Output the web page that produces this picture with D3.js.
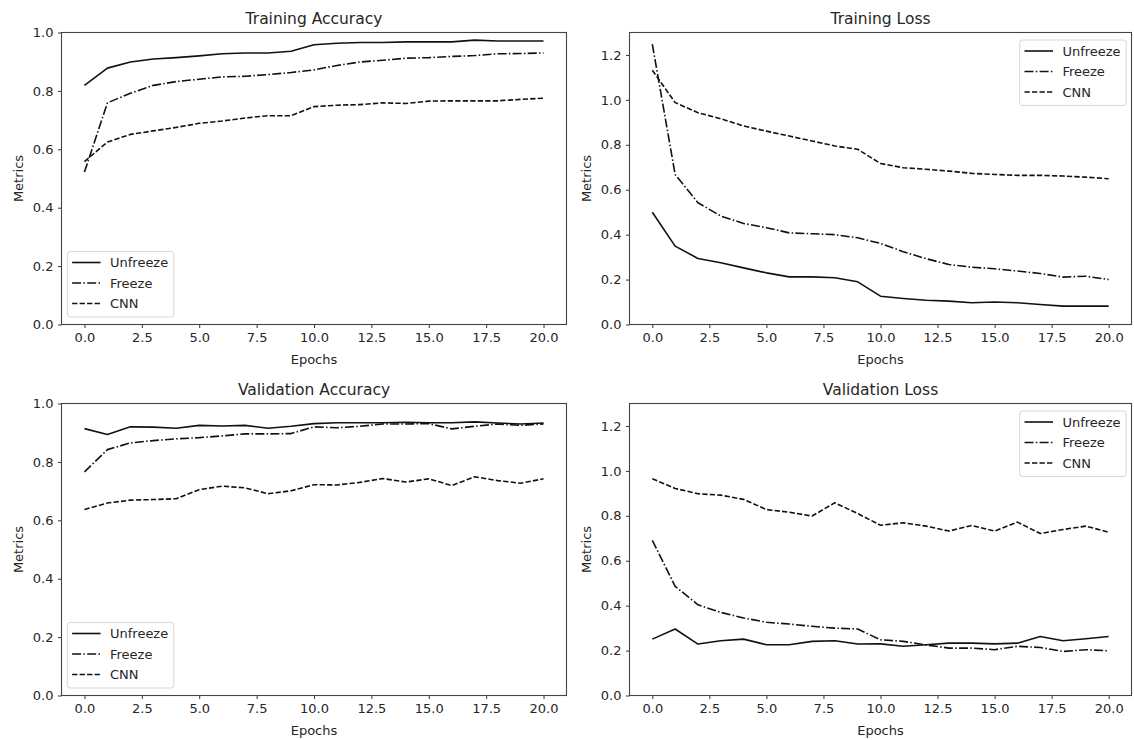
<!DOCTYPE html>
<html>
<head>
<meta charset="utf-8">
<script src="https://cdn.jsdelivr.net/npm/d3@7/dist/d3.min.js"></script>
<style>
  html, body { margin: 0; padding: 0; background: #fff; }
  svg { display: block; font-family: "DejaVu Sans", sans-serif; }
</style>
</head>
<body>
<svg id="chart" width="1134" height="740"></svg>
<script>
// ---------- DATA ----------
const epochs = [0,1,2,3,4,5,6,7,8,9,10,11,12,13,14,15,16,17,18,19,20];
const seriesNames = ["Unfreeze", "Freeze", "CNN"];
const xTickValues = [0, 2.5, 5, 7.5, 10, 12.5, 15, 17.5, 20];
const accTickValues = [0, 0.2, 0.4, 0.6, 0.8, 1.0];
const lossTickValues = [0, 0.2, 0.4, 0.6, 0.8, 1.0, 1.2];

// Training Accuracy
const trainAccUnfreeze = [0.819,0.878,0.899,0.909,0.914,0.920,0.927,0.930,0.930,0.936,0.958,0.963,0.966,0.966,0.968,0.968,0.968,0.974,0.971,0.971,0.971];
const trainAccFreeze   = [0.522,0.759,0.792,0.819,0.832,0.840,0.848,0.850,0.856,0.863,0.872,0.887,0.899,0.905,0.912,0.914,0.918,0.921,0.927,0.928,0.930];
const trainAccCNN      = [0.558,0.625,0.651,0.663,0.675,0.689,0.697,0.707,0.715,0.715,0.746,0.751,0.753,0.759,0.757,0.765,0.766,0.766,0.766,0.771,0.775];

// Training Loss
const trainLossUnfreeze = [0.500,0.349,0.294,0.275,0.252,0.230,0.212,0.212,0.208,0.190,0.126,0.116,0.108,0.104,0.097,0.100,0.097,0.089,0.082,0.082,0.082];
const trainLossFreeze   = [1.248,0.668,0.542,0.483,0.450,0.431,0.408,0.404,0.400,0.386,0.361,0.324,0.293,0.267,0.255,0.248,0.238,0.227,0.211,0.215,0.200];
const trainLossCNN      = [1.132,0.988,0.943,0.916,0.884,0.861,0.839,0.817,0.795,0.780,0.717,0.698,0.691,0.683,0.673,0.668,0.664,0.664,0.661,0.656,0.649];

// Validation Accuracy
const valAccUnfreeze = [0.914,0.894,0.920,0.919,0.915,0.925,0.923,0.925,0.915,0.922,0.931,0.934,0.934,0.934,0.936,0.934,0.934,0.937,0.933,0.930,0.933];
const valAccFreeze   = [0.766,0.842,0.865,0.873,0.879,0.883,0.889,0.896,0.896,0.897,0.920,0.917,0.922,0.930,0.930,0.931,0.913,0.922,0.930,0.925,0.930];
const valAccCNN      = [0.637,0.659,0.669,0.671,0.674,0.705,0.717,0.711,0.691,0.701,0.722,0.721,0.730,0.743,0.731,0.742,0.719,0.749,0.736,0.727,0.742];

// Validation Loss
const valLossUnfreeze = [0.251,0.296,0.229,0.244,0.251,0.226,0.226,0.241,0.244,0.229,0.230,0.219,0.226,0.233,0.233,0.230,0.233,0.263,0.244,0.253,0.263];
const valLossFreeze   = [0.691,0.486,0.404,0.370,0.345,0.326,0.318,0.308,0.300,0.296,0.248,0.241,0.225,0.211,0.211,0.204,0.219,0.214,0.196,0.204,0.199];
const valLossCNN      = [0.965,0.922,0.898,0.892,0.873,0.828,0.816,0.799,0.858,0.810,0.758,0.769,0.754,0.732,0.757,0.732,0.772,0.721,0.739,0.754,0.727];

// ---------- LAYOUT ----------
const svg = d3.select("#chart");
const INK = "#111";
const TXT = "#262626";
const dashes = { "Unfreeze": null, "Freeze": "9,2.3,1.5,2.3", "CNN": "5.3,2.2" };

const panels = [
  { title: "Training Accuracy", left: 61.5, right: 566.5, top: 32.5, bottom: 324.5, yMax: 1.0, yTicks: accTickValues,
    series: [trainAccUnfreeze, trainAccFreeze, trainAccCNN], legend: "lower left" },
  { title: "Training Loss", left: 629.5, right: 1131.5, top: 32.5, bottom: 324.5, yMax: 1.3, yTicks: lossTickValues,
    series: [trainLossUnfreeze, trainLossFreeze, trainLossCNN], legend: "upper right" },
  { title: "Validation Accuracy", left: 61.5, right: 566.5, top: 403.5, bottom: 695.5, yMax: 1.0, yTicks: accTickValues,
    series: [valAccUnfreeze, valAccFreeze, valAccCNN], legend: "lower left" },
  { title: "Validation Loss", left: 629.5, right: 1131.5, top: 403.5, bottom: 695.5, yMax: 1.3, yTicks: lossTickValues,
    series: [valLossUnfreeze, valLossFreeze, valLossCNN], legend: "upper right" }
];

panels.forEach(p => {
  const x = d3.scaleLinear().domain([-1, 21]).range([p.left, p.right]);
  const y = d3.scaleLinear().domain([0, p.yMax]).range([p.bottom, p.top]);
  const g = svg.append("g");

  // lines
  const line = d3.line().x((d, i) => x(epochs[i])).y(d => y(d));
  p.series.forEach((vals, si) => {
    g.append("path")
      .datum(vals)
      .attr("d", line)
      .attr("fill", "none")
      .attr("stroke", INK)
      .attr("stroke-width", 1.6)
      .attr("stroke-linejoin", "round")
      .attr("stroke-dasharray", dashes[seriesNames[si]]);
  });

  // axes
  const xAxis = d3.axisBottom(x).tickValues(xTickValues).tickFormat(d3.format(".1f")).tickSizeOuter(0).tickSize(3.5).tickPadding(4.5);
  const yAxis = d3.axisLeft(y).tickValues(p.yTicks).tickFormat(d3.format(".1f")).tickSizeOuter(0).tickSize(3.5).tickPadding(4.5);
  const gx = g.append("g").attr("transform", `translate(0,${p.bottom})`).call(xAxis);
  const gy = g.append("g").attr("transform", `translate(${p.left},0)`).call(yAxis);
  [gx, gy].forEach(a => {
    a.select(".domain").remove();
    a.selectAll(".tick line").attr("stroke", "#333").attr("stroke-width", 1);
    a.selectAll(".tick text").attr("fill", TXT).style("font-size", "13px").style("font-family", "DejaVu Sans, sans-serif");
  });

  // frame (spines)
  g.append("rect")
    .attr("x", p.left).attr("y", p.top)
    .attr("width", p.right - p.left).attr("height", p.bottom - p.top)
    .attr("fill", "none").attr("stroke", "#444").attr("stroke-width", 1.1);

  // title and labels
  g.append("text").attr("x", (p.left + p.right) / 2).attr("y", p.top - 8.5)
    .attr("text-anchor", "middle").attr("fill", TXT).style("font-size", "15.5px").text(p.title);
  g.append("text").attr("x", (p.left + p.right) / 2).attr("y", p.bottom + 39)
    .attr("text-anchor", "middle").attr("fill", TXT).style("font-size", "13px").text("Epochs");
  g.append("text")
    .attr("transform", `translate(${p.left - 43.5},${(p.top + p.bottom) / 2}) rotate(-90)`)
    .attr("text-anchor", "middle").attr("dy", "0.35em").attr("fill", TXT).style("font-size", "13px").text("Metrics");

  // legend
  const lw = 106.5, lh = 65.5;
  const lx = p.legend === "lower left" ? p.left + 5.8 : p.right - 5.3 - lw;
  const ly = p.legend === "lower left" ? p.bottom - 7.5 - lh : p.top + 7.5;
  const lg = g.append("g").attr("transform", `translate(${lx},${ly})`);
  lg.append("rect").attr("width", lw).attr("height", lh).attr("rx", 3).attr("ry", 3)
    .attr("fill", "#fff").attr("fill-opacity", 0.85).attr("stroke", "#d6d6d6").attr("stroke-width", 1);
  seriesNames.forEach((name, i) => {
    const cy = 11 + i * 20.5;
    lg.append("line").attr("x1", 4.8).attr("x2", 33.3).attr("y1", cy).attr("y2", cy)
      .attr("stroke", INK).attr("stroke-width", 1.6).attr("stroke-dasharray", dashes[name]);
    lg.append("text").attr("x", 42.7).attr("y", cy).attr("dy", "0.35em")
      .attr("fill", TXT).style("font-size", "13px").text(name);
  });
});
</script>
</body>
</html>
